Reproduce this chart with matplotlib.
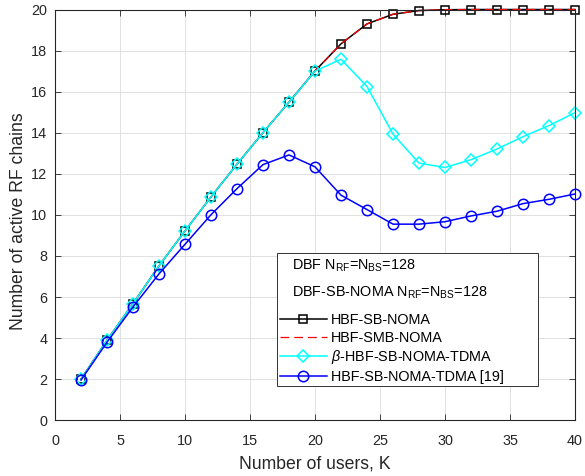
import matplotlib
matplotlib.use("Agg")
import matplotlib.pyplot as plt
from matplotlib.patches import Rectangle

plt.rcParams["font.family"] = ["Liberation Sans", "DejaVu Sans"]
plt.rcParams["mathtext.fontset"] = "custom"
plt.rcParams["mathtext.rm"] = "Liberation Sans"
plt.rcParams["mathtext.it"] = "Liberation Sans:italic"

# --- data -------------------------------------------------------------
users_k = [2, 4, 6, 8, 10, 12, 14, 16, 18, 20,
           22, 24, 26, 28, 30, 32, 34, 36, 38, 40]
hbf_sb_noma = [2.0, 3.9, 5.68, 7.52, 9.22, 10.88, 12.47, 14.01, 15.49, 17.01,
               18.33, 19.30, 19.77, 19.95, 19.99, 20.0, 20.0, 20.0, 20.0, 20.0]
hbf_smb_noma = [2.0, 3.9, 5.68, 7.52, 9.22, 10.88, 12.47, 14.01, 15.49, 17.01,
                18.33, 19.30, 19.77, 19.95, 19.99, 20.0, 20.0, 20.0, 20.0, 20.0]
beta_tdma = [2.0, 3.9, 5.68, 7.52, 9.22, 10.88, 12.47, 14.01, 15.49, 17.0,
             17.58, 16.25, 13.93, 12.52, 12.31, 12.69, 13.21, 13.81, 14.35, 14.98]
hbf_tdma_19 = [1.96, 3.80, 5.52, 7.13, 8.57, 10.01, 11.28, 12.45, 12.92, 12.34,
               10.96, 10.26, 9.55, 9.55, 9.67, 9.95, 10.18, 10.55, 10.76, 11.02]

x_ticks = [0, 5, 10, 15, 20, 25, 30, 35, 40]
y_ticks = [0, 2, 4, 6, 8, 10, 12, 14, 16, 18, 20]

dbf_labels = [r"DBF N$_{\rm RF}$=N$_{\rm BS}$=128",
              r"DBF-SB-NOMA N$_{\rm RF}$=N$_{\rm BS}$=128"]

TXT = "#262626"
FS = 10.4

fig = plt.figure(figsize=(5.85, 4.76), dpi=100)
ax = fig.add_axes([0.094, 0.117, 0.889, 0.863])

# markers on the box edge are drawn in full, as in the original
l1, = ax.plot(users_k, hbf_sb_noma, color="black", lw=1.1, marker="s",
              ms=6, mfc="none", mec="black", mew=1.1, clip_on=False)
l2, = ax.plot(users_k, hbf_smb_noma, color="red", lw=0.9, ls=(0, (7, 4)),
              clip_on=False)
l3, = ax.plot(users_k, beta_tdma, color="cyan", lw=1.1, marker="D",
              ms=6, mfc="none", mec="cyan", mew=1.1, clip_on=False)
l4, = ax.plot(users_k, hbf_tdma_19, color="blue", lw=1.1, marker="o",
              ms=7.5, mfc="none", mec="blue", mew=1.1, clip_on=False)

ax.set_xlim(0, 40)
ax.set_ylim(0, 20)
ax.set_xticks(x_ticks)
ax.set_yticks(y_ticks)
ax.tick_params(direction="in", top=True, right=True, labelsize=FS,
               colors=TXT, length=4, width=0.6)
ax.tick_params(axis="x", pad=9.5)
ax.tick_params(axis="y", pad=5.5)
for sp in ax.spines.values():
    sp.set_color(TXT)
    sp.set_linewidth(0.8)
ax.grid(True, color="#dcdcdc", lw=0.6)
ax.set_axisbelow(True)
ax.set_xlabel("Number of users, K", fontsize=12.7, color=TXT, labelpad=5.5)
ax.set_ylabel("Number of active RF chains", fontsize=12.7, color=TXT, labelpad=3)
ax.yaxis.label.set_y(0.484)

# --- legend: boxed area with two text-only rows on top ----------------
ax.add_patch(Rectangle((0.427, 0.0835), 0.502, 0.324, transform=ax.transAxes,
                       facecolor="white", edgecolor="#333333", lw=0.7, zorder=5))
for row, lab in zip([0.376, 0.311], dbf_labels):
    ax.text(0.4558, row, lab, transform=ax.transAxes, fontsize=FS,
            va="center", ha="left", color="black", zorder=6)

leg = ax.legend([l1, l2, l3, l4],
                ["HBF-SB-NOMA", "HBF-SMB-NOMA",
                 r"$\beta$-HBF-SB-NOMA-TDMA", "HBF-SB-NOMA-TDMA [19]"],
                loc="upper left", bbox_to_anchor=(0.432, 0.261),
                frameon=False, fontsize=FS, handlelength=3.3,
                handletextpad=0.25, labelspacing=0.25, borderpad=0,
                borderaxespad=0)
leg.set_zorder(7)

fig.savefig("out.png", dpi=100)
